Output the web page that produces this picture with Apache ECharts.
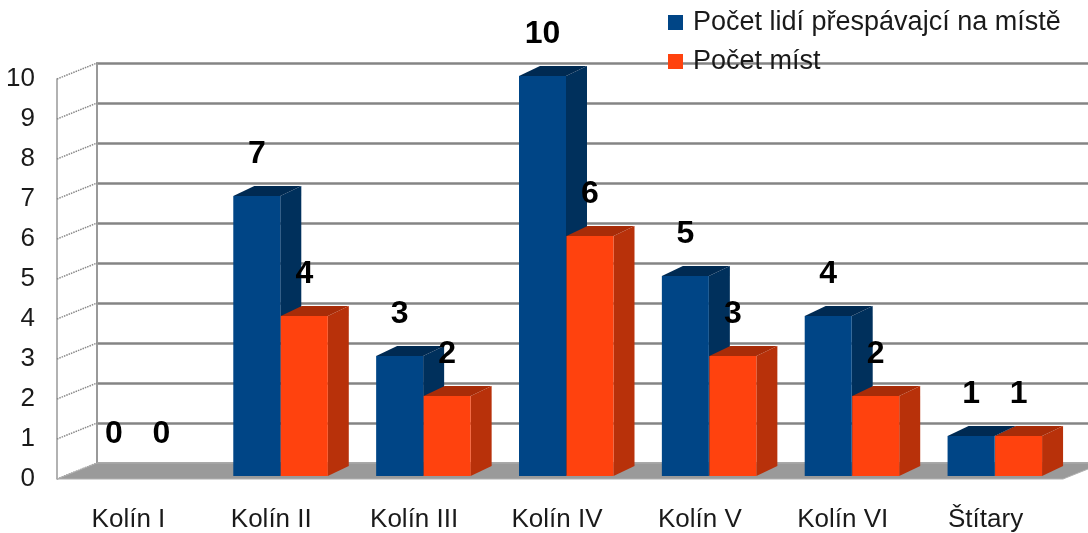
<!DOCTYPE html>
<html>
<head>
<meta charset="utf-8">
<script src="https://cdn.jsdelivr.net/npm/echarts@6/dist/echarts.min.js"></script>
<style>
html,body{margin:0;padding:0;background:#fff;}
#chart{width:1088px;height:533px;}
</style>
</head>
<body>
<div id="chart"></div>
<script>
var categories = ['Kolín I', 'Kolín II', 'Kolín III', 'Kolín IV', 'Kolín V', 'Kolín VI', 'Štítary'];
var seriesNames = ['Počet lidí přespávajcí na místě', 'Počet míst'];
var peopleValues = [0, 7, 3, 10, 5, 4, 1];
var placesValues = [0, 4, 2, 6, 3, 2, 1];
var yTicks = [0, 1, 2, 3, 4, 5, 6, 7, 8, 9, 10];

var FONT = '"Liberation Sans", Arial, sans-serif';
var WALL_DX = 40, WALL_DY = -16;      // depth of the wall/floor
var BAR_DX = 21, BAR_DY = -10;        // depth of each bar
var BAR_W = 47;
var OFFS = [-38, 9.5];                // front-face left edge relative to category centre
var PLANE_DY = -3;                    // bar front plane shift
var FRONT = ['#004586', '#ff420e'];
var SIDE = ['#00305c', '#b8310a'];
var TOP = ['#002a52', '#a82c08'];

var chart = echarts.init(document.getElementById('chart'), null, {renderer: 'canvas'});

function barRender(si) {
  return function (params, api) {
    var idx = api.value(0);
    var v = api.value(1);
    var base = api.coord([idx, 0]);
    var top = api.coord([idx, v]);
    var x0 = base[0] + OFFS[si];
    var yb = base[1] + PLANE_DY;
    var yt = top[1] + PLANE_DY;
    var children = [];
    if (v > 0) {
      children.push({type: 'polygon', shape: {points: [[x0 + BAR_W, yb], [x0 + BAR_W + BAR_DX, yb + BAR_DY], [x0 + BAR_W + BAR_DX, yt + BAR_DY], [x0 + BAR_W, yt]]}, style: {fill: SIDE[si]}});
      children.push({type: 'rect', shape: {x: x0, y: yt, width: BAR_W, height: yb - yt}, style: {fill: FRONT[si]}});
      children.push({type: 'polygon', shape: {points: [[x0, yt], [x0 + BAR_DX, yt + BAR_DY], [x0 + BAR_W + BAR_DX, yt + BAR_DY], [x0 + BAR_W, yt]]}, style: {fill: TOP[si]}});
    }
    children.push({type: 'text', z2: 100, style: {text: String(v), x: x0 + BAR_W / 2, y: yt - 42, align: 'center', verticalAlign: 'middle', fill: '#000', font: 'bold 32px ' + FONT}});
    return {type: 'group', children: children};
  };
}

function toData(arr) { return arr.map(function (v, i) { return [i, v]; }); }

var option = {
  animation: false,
  color: FRONT,
  legend: {
    data: seriesNames,
    orient: 'vertical',
    left: 668, top: 9,
    padding: 0,
    itemWidth: 15, itemHeight: 15,
    itemGap: 12,
    icon: 'rect',
    textStyle: {fontSize: 27, fontFamily: FONT, color: '#1a1a1a', padding: [0, 0, 0, 5]}
  },
  grid: [
    {left: 57, top: 79, width: 1000, height: 400},
    {left: 57 + WALL_DX, top: 79 + WALL_DY, right: -60, height: 400}
  ],
  xAxis: [
    {type: 'category', gridIndex: 0, data: categories,
      axisLine: {show: false}, axisTick: {show: false},
      axisLabel: {fontSize: 26, fontFamily: FONT, color: '#1a1a1a', margin: 28}},
    {type: 'category', gridIndex: 1, data: categories, show: false}
  ],
  yAxis: [
    {type: 'value', gridIndex: 0, min: 0, max: 10, interval: 1,
      axisLine: {show: true, lineStyle: {color: '#999', width: 1.5}},
      axisTick: {show: false}, splitLine: {show: false},
      axisLabel: {fontSize: 26, fontFamily: FONT, color: '#1a1a1a', margin: 22, padding: [4, 0, 0, 0],
        formatter: function (v) { return yTicks.indexOf(v) >= 0 ? String(v) : ''; }}},
    {type: 'value', gridIndex: 1, min: 0, max: 10, interval: 1,
      axisLine: {show: true, lineStyle: {color: '#999', width: 2}},
      axisTick: {show: false}, axisLabel: {show: false},
      splitLine: {show: true, lineStyle: {color: '#848484', width: 2.5}}}
  ],
  series: [
    {
      name: 'wall', type: 'custom', xAxisIndex: 0, yAxisIndex: 0, z: 1, silent: true, clip: false,
      data: yTicks.map(function (t) { return [0, t]; }),
      renderItem: function (params, api) {
        var cs = params.coordSys;
        var y = api.coord([0, api.value(1)])[1];
        return {type: 'line', shape: {x1: cs.x, y1: y, x2: cs.x + WALL_DX, y2: y + WALL_DY},
          style: {stroke: '#888', lineWidth: 1.5, lineDash: [1.5, 1]}};
      }
    },
    {
      name: 'floor', type: 'custom', xAxisIndex: 0, yAxisIndex: 0, z: 1, silent: true, clip: false,
      data: [[0, 0]],
      renderItem: function (params, api) {
        var cs = params.coordSys;
        var yb = cs.y + cs.height;
        return {type: 'polygon', shape: {points: [[cs.x, yb], [cs.x + WALL_DX, yb + WALL_DY], [cs.x + cs.width + 6 + WALL_DX, yb + WALL_DY], [cs.x + cs.width + 6, yb]]},
          style: {fill: '#9a9a9a', stroke: '#b0b0b0', lineWidth: 1}};
      }
    },
    {name: seriesNames[0], type: 'custom', xAxisIndex: 0, yAxisIndex: 0, z: 3, clip: false,
      itemStyle: {color: FRONT[0]}, data: toData(peopleValues), renderItem: barRender(0)},
    {name: seriesNames[1], type: 'custom', xAxisIndex: 0, yAxisIndex: 0, z: 4, clip: false,
      itemStyle: {color: FRONT[1]}, data: toData(placesValues), renderItem: barRender(1)}
  ]
};
chart.setOption(option);
</script>
</body>
</html>
